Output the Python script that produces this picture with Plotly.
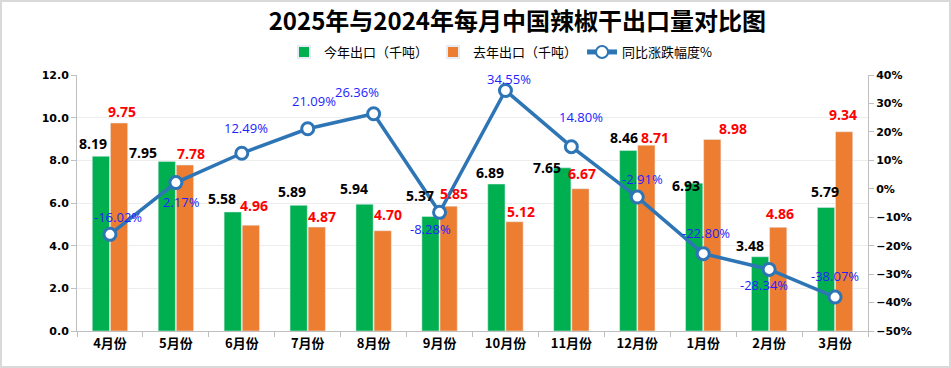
import plotly.graph_objects as go

months = ["4月份", "5月份", "6月份", "7月份", "8月份", "9月份", "10月份", "11月份", "12月份", "1月份", "2月份", "3月份"]
this_year = [8.19, 7.95, 5.58, 5.89, 5.94, 5.37, 6.89, 7.65, 8.46, 6.93, 3.48, 5.79]
last_year = [9.75, 7.78, 4.96, 4.87, 4.70, 5.85, 5.12, 6.67, 8.71, 8.98, 4.86, 9.34]
yoy_pct = [-16.02, 2.17, 12.49, 21.09, 26.36, -8.28, 34.55, 14.80, -2.91, -22.80, -28.34, -38.07]

# label placement offsets (pixels) as in the reference
g_dx = [-8, -24, -11, -7, -11, -10, -6, -15, -4, -8, -10, -1]
g_dy = [13, 9, 13, 14, 16, 21, 12, 0, 13, -2, 11, 16]
o_dx = [3, 6, 3, 5, 5, 5, 6, 2, 9, 21, 2, -1]
o_dy = [12, 12, 20, 11, 16, 13, 10, 15, 8, 11, 14, 17]
p_dx = [8, 6, 4, 6, -17, -9, 4, 10, 5, 3, -5, 0]
p_dy = [17, -19, 25, 28, 22, -17, 12, 30, 18, 21, -16, 21]

W, H = 951, 368
ML, MR, MT, MB = 77, 83, 75, 37
PW, PH = W - ML - MR, H - MT - MB
BARGAP = 0.45
BAR_OFF = PW / len(months) * (1 - BARGAP) / 4  # half bar slot, px

num_font = "Open Sans"
tick_font = "DejaVu Sans"
cjk_font = "Noto Sans CJK SC"

fig = go.Figure()
fig.add_trace(go.Bar(x=months, y=this_year, name="今年出口（千吨）", marker_color="#00B050"))
fig.add_trace(go.Bar(x=months, y=last_year, name="去年出口（千吨）", marker_color="#ED7D31"))
fig.add_trace(go.Scatter(
    x=months, y=yoy_pct, name="同比涨跌幅度%", yaxis="y2", mode="lines+markers",
    line=dict(color="#2E75B6", width=3.5),
    marker=dict(size=12, color="white", line=dict(color="#2E75B6", width=3)),
    cliponaxis=False,
))

annotations = []
for i, m in enumerate(months):
    annotations.append(dict(x=m, y=this_year[i], xref="x", yref="y", text=f"{this_year[i]:.2f}",
                            showarrow=False, xanchor="center", yanchor="middle",
                            xshift=-BAR_OFF + g_dx[i], yshift=g_dy[i],
                            font=dict(family=num_font, size=14, color="#000000", weight="bold")))
    annotations.append(dict(x=m, y=last_year[i], xref="x", yref="y", text=f"{last_year[i]:.2f}",
                            showarrow=False, xanchor="center", yanchor="middle",
                            xshift=BAR_OFF + o_dx[i], yshift=o_dy[i],
                            font=dict(family=num_font, size=14, color="#FF0000", weight="bold")))
    annotations.append(dict(x=m, y=yoy_pct[i], xref="x", yref="y2", text=f"{yoy_pct[i]:.2f}%",
                            showarrow=False, xanchor="center", yanchor="middle",
                            xshift=p_dx[i], yshift=p_dy[i],
                            font=dict(family=num_font, size=13, color="#2222FF")))

fig.update_layout(
    width=W, height=H,
    margin=dict(l=ML, r=MR, t=MT, b=MB, autoexpand=False),
    paper_bgcolor="white", plot_bgcolor="white",
    barmode="group", bargap=BARGAP, bargroupgap=0.05,
    title=dict(text="2025年与2024年每月中国辣椒干出口量对比图", x=0.544, xanchor="center",
               y=1 - 22 / H, yanchor="middle",
               font=dict(family=cjk_font, size=24, color="#000000", weight="bold")),
    legend=dict(orientation="h", x=(501 - ML) / PW, xanchor="center", y=1 + (MT - 52) / PH, yanchor="middle",
                font=dict(family=cjk_font, size=13, color="#000000"), itemsizing="constant",
                bgcolor="rgba(0,0,0,0)"),
    xaxis=dict(range=[-0.5, len(months) - 0.5], autorange=False,
               showline=True, linecolor="#BFBFBF", linewidth=1, ticks="outside", tickson="boundaries",
               ticklen=5, tickcolor="#BFBFBF", automargin=False,
               tickfont=dict(family=cjk_font, size=13, color="#000000", weight="bold")),
    yaxis=dict(range=[0, 12], dtick=2, tickformat=".1f", showline=True, linecolor="#BFBFBF",
               ticks="outside", ticklen=5, tickcolor="#BFBFBF", showgrid=True, gridcolor="#EDEDED",
               zeroline=False, automargin=False,
               tickfont=dict(family=tick_font, size=11, color="#000000", weight="bold")),
    yaxis2=dict(range=[-50, 40], dtick=10, ticksuffix="%", overlaying="y", side="right",
                showline=True, linecolor="#BFBFBF", ticks="outside", ticklen=5, tickcolor="#BFBFBF",
                showgrid=False, zeroline=False, automargin=False,
                tickfont=dict(family=tick_font, size=11, color="#000000", weight="bold")),
    annotations=annotations,
    shapes=[dict(type="rect", xref="paper", yref="paper",
                 x0=-(ML - 1) / PW, x1=1 + (MR - 1) / PW, y0=-(MB - 1) / PH, y1=1 + (MT - 1) / PH,
                 line=dict(color="#D9D9D9", width=2), fillcolor="rgba(0,0,0,0)", layer="below")],
)

fig.write_html("out.html", config={"displayModeBar": False},
               post_script="document.body.style.margin='0';document.body.style.overflow='hidden';")
